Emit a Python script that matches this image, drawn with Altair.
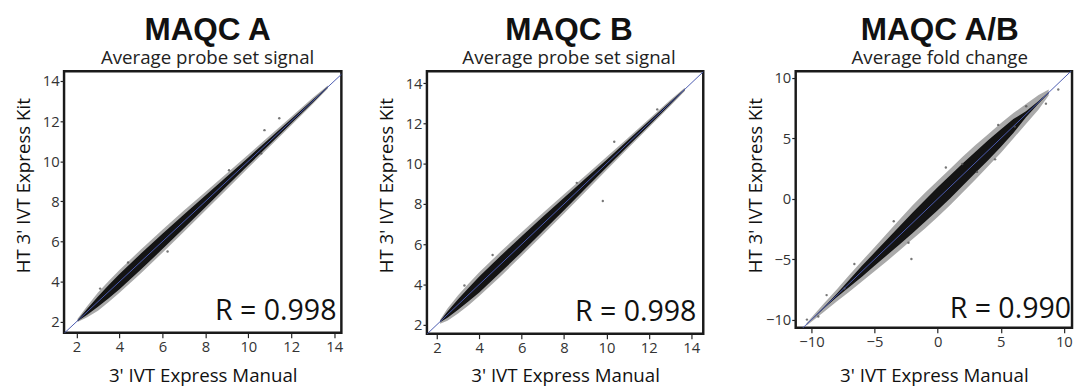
import altair as alt
import pandas as pd

FONT = "Open Sans"
TITLE_FONT = "Liberation Sans"

# ---------------- Panel A: MAQC A ----------------
a_band_x  = [2.05, 2.5, 3.0, 3.5, 4.0, 5.0, 6.0, 7.0, 8.0, 9.0, 10.0, 11.0, 12.0, 13.0, 13.7]
a_core_lo = [2.02, 2.35, 2.74, 3.17, 3.62, 4.60, 5.62, 6.66, 7.71, 8.76, 9.81, 10.85, 11.89, 12.93, 13.67]
a_core_hi = [2.08, 2.65, 3.26, 3.83, 4.38, 5.40, 6.38, 7.34, 8.29, 9.24, 10.19, 11.15, 12.11, 13.07, 13.73]
a_frin_lo = [1.98, 2.22, 2.55, 2.98, 3.44, 4.42, 5.44, 6.48, 7.54, 8.60, 9.67, 10.73, 11.79, 12.85, 13.62]
a_frin_hi = [2.15, 2.78, 3.46, 4.03, 4.58, 5.60, 6.58, 7.54, 8.47, 9.40, 10.34, 11.28, 12.22, 13.16, 13.78]
a_pts_x = [10.75, 10.60, 6.24, 11.44, 9.10, 4.40, 3.10]
a_pts_y = [11.55, 10.39, 5.50, 12.14, 9.55, 4.95, 3.65]

# ---------------- Panel B: MAQC B ----------------
b_band_x  = [2.15, 2.5, 3.0, 3.5, 4.0, 5.0, 6.0, 7.0, 8.0, 9.0, 10.0, 11.0, 12.0, 13.0, 13.7]
b_core_lo = [2.12, 2.34, 2.74, 3.16, 3.60, 4.59, 5.60, 6.64, 7.69, 8.75, 9.81, 10.85, 11.89, 12.93, 13.67]
b_core_hi = [2.18, 2.66, 3.26, 3.84, 4.40, 5.41, 6.40, 7.36, 8.31, 9.25, 10.19, 11.15, 12.11, 13.07, 13.73]
b_frin_lo = [2.05, 2.20, 2.55, 2.96, 3.42, 4.40, 5.42, 6.47, 7.53, 8.60, 9.67, 10.74, 11.80, 12.86, 13.62]
b_frin_hi = [2.25, 2.80, 3.46, 4.05, 4.60, 5.62, 6.60, 7.55, 8.48, 9.40, 10.34, 11.27, 12.21, 13.15, 13.78]
b_pts_x = [9.83, 10.37, 4.63, 12.40, 8.60, 3.30]
b_pts_y = [8.15, 11.09, 5.46, 12.70, 9.05, 3.95]

# ---------------- Panel C: MAQC A/B ----------------
c_band_x  = [-10.4, -9.0, -8.0, -7.0, -6.0, -5.0, -4.0, -3.0, -2.0, -1.0, 0.0, 1.0, 2.0, 3.0, 4.0, 5.0, 6.0, 7.0, 8.0, 8.8]
c_core_lo = [-10.40, -9.05, -8.15, -7.30, -6.45, -5.55, -4.65, -3.75, -2.85, -1.90, -0.95, 0.05, 1.10, 2.15, 3.20, 4.30, 5.45, 6.75, 7.90, 8.75]
c_core_hi = [-10.40, -8.95, -7.85, -6.70, -5.55, -4.45, -3.35, -2.25, -1.15, -0.10, 0.95, 1.95, 2.95, 3.90, 4.85, 5.75, 6.60, 7.25, 8.10, 8.85]
c_frin_lo = [-10.50, -9.35, -8.50, -7.70, -6.85, -6.00, -5.15, -4.25, -3.35, -2.45, -1.50, -0.50, 0.55, 1.60, 2.70, 3.80, 5.00, 6.20, 7.40, 8.55]
c_frin_hi = [-10.30, -8.65, -7.50, -6.30, -5.15, -4.00, -2.85, -1.70, -0.55, 0.50, 1.50, 2.50, 3.50, 4.45, 5.35, 6.25, 7.10, 7.85, 8.60, 9.05]
c_pts_x = [-2.08, 1.95, 9.56, 8.58, 4.80, 4.55, 6.11, 7.02, 3.12, 0.65, -10.36, -8.80, -7.38, -6.60, -3.48, -2.31, -9.46]
c_pts_y = [-4.98, 2.88, 9.05, 7.88, 6.12, 3.27, 5.98, 7.66, 2.23, 2.59, -10.00, -7.97, -7.43, -5.39, -1.86, -3.63, -9.74]

panels = [
    dict(title="MAQC A", subtitle="Average probe set signal", r="R = 0.998",
         bx=a_band_x, clo=a_core_lo, chi=a_core_hi, flo=a_frin_lo, fhi=a_frin_hi,
         px=a_pts_x, py=a_pts_y, xdom=[1.42, 14.33], ydom=[1.45, 14.49],
         ticks=[2, 4, 6, 8, 10, 12, 14], w=282, h=266, dx=5, rx=5, ry=13),
    dict(title="MAQC B", subtitle="Average probe set signal", r="R = 0.998",
         bx=b_band_x, clo=b_core_lo, chi=b_core_hi, flo=b_frin_lo, fhi=b_frin_hi,
         px=b_pts_x, py=b_pts_y, xdom=[1.53, 14.57], ydom=[1.55, 14.60],
         ticks=[2, 4, 6, 8, 10, 12, 14], w=281, h=267, dx=4, rx=7, ry=13),
    dict(title="MAQC A/B", subtitle="Average fold change", r="R = 0.990",
         bx=c_band_x, clo=c_core_lo, chi=c_core_hi, flo=c_frin_lo, fhi=c_frin_hi,
         px=c_pts_x, py=c_pts_y, xdom=[-11.25, 10.65], ydom=[-10.68, 10.57],
         ticks=[-10, -5, 0, 5, 10], w=281, h=261, dx=6, rx=1, ry=10),
]


def make_panel(p):
    band = pd.DataFrame({"x": p["bx"], "lo": p["clo"], "hi": p["chi"],
                         "flo": p["flo"], "fhi": p["fhi"]})
    pts = pd.DataFrame({"x": p["px"], "y": p["py"]})
    lo = min(p["xdom"][0], p["ydom"][0])
    hi = max(p["xdom"][1], p["ydom"][1])
    diag = pd.DataFrame({"x": [lo, hi], "y": [lo, hi]})
    r_df = pd.DataFrame({"t": [p["r"]]})

    xs = alt.Scale(domain=p["xdom"], nice=False, zero=False)
    ys = alt.Scale(domain=p["ydom"], nice=False, zero=False)
    xax = alt.Axis(values=p["ticks"], title="3' IVT Express Manual", grid=False, domain=False,
                   tickColor="#222", tickSize=5, tickWidth=1.2, labelPadding=2,
                   labelFont=FONT, labelFontSize=15, labelColor="#333",
                   titleFont=FONT, titleFontSize=19, titleFontWeight="normal", titleColor="#111",
                   titleY=50 + (266 - p["h"]), titleBaseline="alphabetic")
    yax = alt.Axis(values=p["ticks"], title="HT 3' IVT Express Kit", grid=False, domain=False,
                   tickColor="#222", tickSize=4, tickWidth=1.2, labelPadding=1,
                   labelFont=FONT, labelFontSize=15, labelColor="#333",
                   titleFont=FONT, titleFontSize=19, titleFontWeight="normal", titleColor="#111",
                   titleX=-35, titleY=116, titleAngle=270, titleBaseline="alphabetic")

    fringe = alt.Chart(band).mark_area(color="#555555", opacity=0.5, clip=True).encode(
        x=alt.X("x:Q", scale=xs, axis=xax), y=alt.Y("flo:Q", scale=ys, axis=yax), y2="fhi:Q")
    core = alt.Chart(band).mark_area(color="#141414", clip=True).encode(
        x=alt.X("x:Q", scale=xs), y=alt.Y("lo:Q", scale=ys), y2="hi:Q")
    dots = alt.Chart(pts).mark_point(size=6, color="#555555", opacity=0.8, filled=True, clip=True).encode(
        x=alt.X("x:Q", scale=xs), y=alt.Y("y:Q", scale=ys))
    line = alt.Chart(diag).mark_line(color="#4a5bb0", strokeWidth=1, clip=True).encode(
        x=alt.X("x:Q", scale=xs), y=alt.Y("y:Q", scale=ys))
    rtext = alt.Chart(r_df).mark_text(align="right", baseline="alphabetic", font=FONT,
                                      fontSize=29, color="#111").encode(
        x=alt.value(p["w"] - p["rx"]), y=alt.value(p["h"] - p["ry"]), text="t:N")

    return alt.layer(fringe, core, dots, line, rtext).properties(
        width=p["w"], height=p["h"],
        title=alt.TitleParams(text=p["title"], subtitle=p["subtitle"], anchor="middle",
                              font=TITLE_FONT, fontSize=32, fontWeight="bold", color="#111",
                              subtitleFont=FONT, subtitleFontSize=19, subtitleColor="#222",
                              subtitlePadding=3, offset=2, dx=p["dx"]))


pa, pb, pc = [make_panel(p) for p in panels]
chart = alt.hconcat(alt.hconcat(pa, pb, spacing=32), pc, spacing=40).properties(
    padding={"left": 5, "top": 1, "right": 0, "bottom": 0}
).configure(
    background="white",
    view=alt.ViewConfig(stroke="#1a1a1a", strokeWidth=2.5),
)

chart.save("out.html", embed_options={"renderer": "svg", "actions": False})
